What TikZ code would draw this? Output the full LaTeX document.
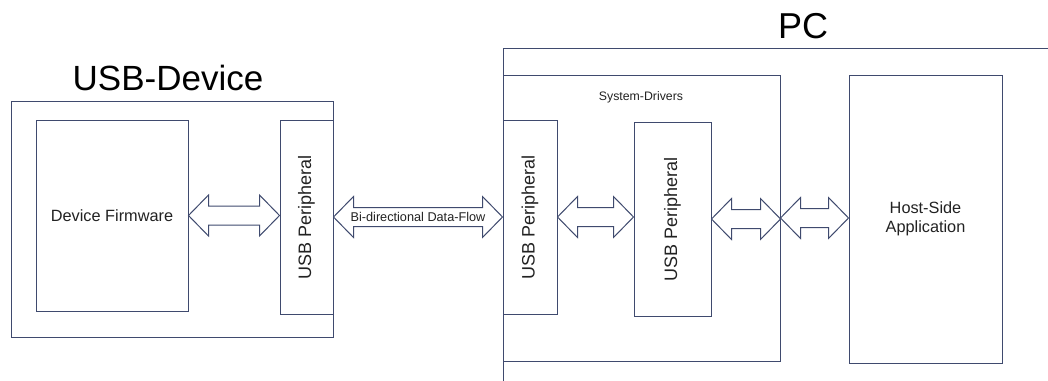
\documentclass[tikz,border=0pt]{standalone}
\usepackage{fontspec}
\setmainfont{Liberation Sans}
\usetikzlibrary{calc}
\definecolor{linec}{HTML}{3F4A6E}
\definecolor{txtc}{HTML}{222222}
\tikzset{
  box/.style={draw=linec, line width=1pt, inner sep=0pt, rectangle},
  conn/.style={draw=linec, line width=1pt, fill=white, line join=miter},
  lbl/.style={text=txtc, inner sep=0pt, align=center},
  periph/.style={lbl, rotate=90, font=\fontsize{18}{20}\selectfont},
}
\newcommand\dblarr[2]{%
  \path[conn] let \p1=(#1), \p2=(#2) in
    (\x1,\y1) -- (\x1+20pt,\y1+20.5pt) -- (\x1+20pt,\y1+9.5pt) -- (\x2-20pt,\y1+9.5pt)
    -- (\x2-20pt,\y1+20.5pt) -- (\x2,\y1) -- (\x2-20pt,\y1-20.5pt) -- (\x2-20pt,\y1-9.5pt)
    -- (\x1+20pt,\y1-9.5pt) -- (\x1+20pt,\y1-20.5pt) -- cycle;}
\begin{document}
\begin{tikzpicture}[x=1pt,y=-1pt]
\useasboundingbox (0,0) rectangle (1048,380);
\clip (0,0) rectangle (1048,380);
% USB-Device side
\node[lbl, text=black, font=\fontsize{35}{38}\selectfont] (devtitle) at (168,78) {USB-Device};
\node[box, minimum width=322pt, minimum height=236pt] (dev) at (172,219) {};
\node[box, minimum width=152pt, minimum height=191pt] (fw) at (112,215.5) {};
\node[lbl, font=\fontsize{16.3}{18}\selectfont] (fwt) at (fw.center) {Device Firmware};
\node[box, minimum width=53pt, minimum height=194pt] (lp) at (306.5,217) {};
\node[periph] (lpt) at (lp.center) {USB Peripheral};
% PC side
\node[lbl, text=black, font=\fontsize{36}{38}\selectfont] (pctitle) at (803,26) {PC};
\node[box, minimum width=600pt, minimum height=400pt] (pc) at (803,248) {};
\node[box, minimum width=277pt, minimum height=286pt] (sd) at (641.5,218) {};
\node[lbl, font=\fontsize{12.3}{14}\selectfont] (sdt) at (641,97) {System-Drivers};
\node[box, minimum width=54pt, minimum height=194pt] (pp1) at (530,217) {};
\node[periph] (pp1t) at (pp1.center) {USB Peripheral};
\node[box, minimum width=77pt, minimum height=194pt] (pp2) at (672.5,219) {};
\node[periph] (pp2t) at (pp2.center) {USB Peripheral};
\node[box, minimum width=153pt, minimum height=288pt] (app) at (925.5,219) {};
\node[lbl, font=\fontsize{16.3}{19.5}\selectfont] (appt) at (app.center) {Host-Side\\Application};
% connectors
\dblarr{fw.east}{lp.west}
\dblarr{lp.east}{pp1.west}
\node[lbl, font=\fontsize{12.7}{14}\selectfont] (flow) at ($(lp.east)!0.5!(pp1.west)$) {Bi-directional Data-Flow};
\dblarr{pp1.east}{pp2.west}
\dblarr{pp2.east}{sd.east}
\dblarr{sd.east}{app.west}
\end{tikzpicture}
\end{document}
